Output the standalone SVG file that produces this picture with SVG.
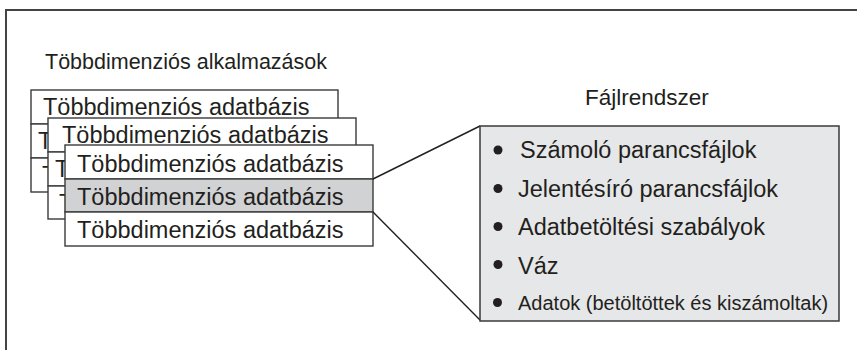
<svg xmlns="http://www.w3.org/2000/svg" width="857" height="350" viewBox="0 0 857 350">
<style>
.t{font-family:"Liberation Sans",Arial,sans-serif;fill:#231f20}
.row{fill:#fff;stroke:#3a3a3a;stroke-width:1.4}
.sel{fill:#d1d2d4;stroke:#3a3a3a;stroke-width:1.4}
.db{font-size:23.5px}
.it{font-size:23.5px}
.frame{fill:none;stroke:#444;stroke-width:2}
.conn{stroke:#231f20;stroke-width:1.4;fill:none}
</style>
<rect width="857" height="350" fill="#fff"/>
<g id="frame"><path class="frame" d="M6,350 V10 H857"/></g>
<g id="title-apps"><text class="t" x="45" y="69" font-size="21.5">Többdimenziós alkalmazások</text></g>
<g id="title-fs"><text class="t" x="585" y="105" font-size="22.5">Fájlrendszer</text></g>
<g id="stack1">
<rect class="row" x="31" y="90" width="307" height="34"/>
<text class="t db" x="43" y="115">Többdimenziós adatbázis</text>
<rect class="row" x="31" y="124" width="307" height="34"/>
<text class="t db" x="38" y="149">T</text>
<rect class="row" x="31" y="158" width="307" height="34"/>
<text class="t db" x="42" y="183">T</text>
</g>
<g id="stack2">
<rect class="row" x="48" y="118" width="308" height="34"/>
<text class="t db" x="62" y="143">Többdimenziós adatbázis</text>
<rect class="row" x="48" y="152" width="308" height="34"/>
<text class="t db" x="55" y="177">T</text>
<rect class="row" x="48" y="186" width="308" height="33"/>
<text class="t db" x="59" y="211">T</text>
</g>
<g id="stack3">
<rect class="row" x="65" y="145" width="308" height="34"/>
<text class="t db" x="77" y="172">Többdimenziós adatbázis</text>
<rect class="sel" x="65" y="179" width="308" height="33"/>
<text class="t db" x="77" y="205">Többdimenziós adatbázis</text>
<rect class="row" x="65" y="212" width="308" height="34"/>
<text class="t db" x="77" y="238">Többdimenziós adatbázis</text>
</g>
<g id="connectors">
<line class="conn" x1="373" y1="179" x2="480" y2="126"/>
<line class="conn" x1="373" y1="212" x2="480" y2="320"/>
</g>
<g id="filesystem">
<rect x="480" y="126" width="359" height="195" fill="#e6e7e8" stroke="#3a3a3a" stroke-width="1.5"/>
<circle cx="498" cy="150" r="4.5" fill="#231f20"/>
<text class="t it" x="520" y="158">Számoló parancsfájlok</text>
<circle cx="498" cy="188.5" r="4.5" fill="#231f20"/>
<text class="t it" x="518" y="197">Jelentésíró parancsfájlok</text>
<circle cx="498" cy="226.5" r="4.5" fill="#231f20"/>
<text class="t it" x="518" y="235">Adatbetöltési szabályok</text>
<circle cx="498" cy="264.5" r="4.5" fill="#231f20"/>
<text class="t it" x="518" y="274">Váz</text>
<circle cx="497.5" cy="302.5" r="4.5" fill="#231f20"/>
<text class="t" x="518" y="310" font-size="20">Adatok (betöltöttek és kiszámoltak)</text>
</g>
</svg>
